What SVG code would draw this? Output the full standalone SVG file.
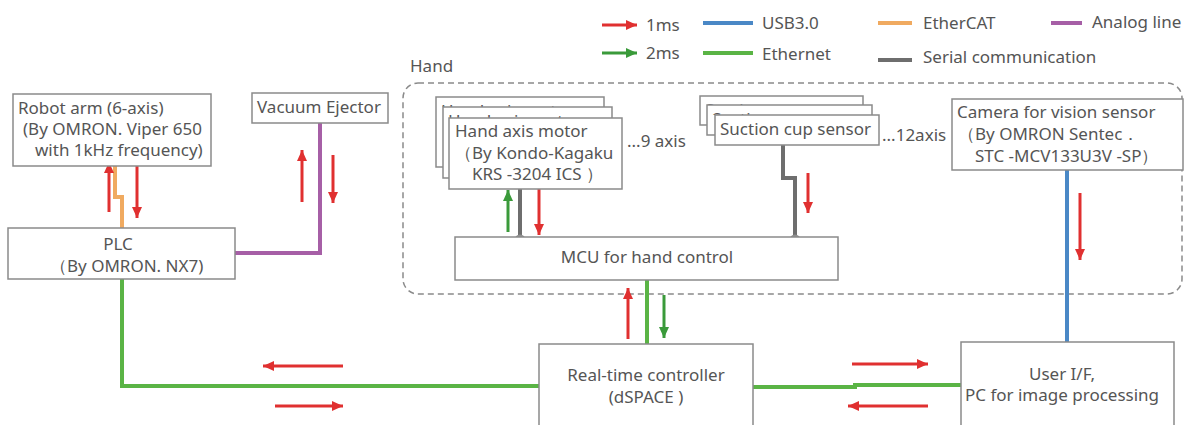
<svg xmlns="http://www.w3.org/2000/svg" width="1189" height="425" viewBox="0 0 1189 425">
  <style>
    .box { fill: #ffffff; stroke: #8a8a8a; stroke-width: 1.5; }
    .t { font-family: "Noto Sans", "Open Sans", sans-serif; font-size: 17px; fill: #555555; }
    .lg { font-family: "Noto Sans", "Open Sans", sans-serif; font-size: 17px; fill: #555555; }
    .c { fill: none; stroke-width: 4; stroke-linejoin: miter; }
    .eth { stroke: #5ab445; }
    .usb { stroke: #4a88c6; }
    .ecat { stroke: #f0aa60; }
    .ana { stroke: #a65fa6; }
    .ser { stroke: #6e6e6e; }
    .r { stroke: #e03030; stroke-width: 3; fill: none; marker-end: url(#ah-r); }
    .g { stroke: #3a9a3a; stroke-width: 3; fill: none; marker-end: url(#ah-g); }
  </style>
  <defs>
    <marker id="ah-r" markerUnits="userSpaceOnUse" markerWidth="12" markerHeight="10" refX="11" refY="5" orient="auto">
      <path d="M0,0 L11,5 L0,10 z" fill="#e03030"/>
    </marker>
    <marker id="ah-g" markerUnits="userSpaceOnUse" markerWidth="12" markerHeight="10" refX="11" refY="5" orient="auto">
      <path d="M0,0 L11,5 L0,10 z" fill="#3a9a3a"/>
    </marker>
    <!-- visible strips of the stacked back cards -->
    <clipPath id="clip-m1"><rect x="436" y="97" width="168" height="10"/></clipPath>
    <clipPath id="clip-m2"><rect x="443" y="107" width="169" height="11"/></clipPath>
    <clipPath id="clip-s1"><rect x="700" y="96" width="163" height="9"/></clipPath>
    <clipPath id="clip-s2"><rect x="707" y="105" width="165" height="10"/></clipPath>
  </defs>
  <rect width="1189" height="425" fill="#ffffff"/>

  <!-- legend -->
  <g id="legend">
    <line class="r" x1="602" y1="25" x2="637" y2="25"/>
    <text class="lg" x="646" y="31">1ms</text>
    <line class="g" x1="602" y1="53" x2="637" y2="53"/>
    <text class="lg" x="646" y="59">2ms</text>
    <line class="c usb" stroke-width="5" x1="703" y1="23" x2="753" y2="23"/>
    <text class="lg" x="762" y="29">USB3.0</text>
    <line class="c eth" stroke-width="5" x1="703" y1="53" x2="753" y2="53"/>
    <text class="lg" x="762" y="60">Ethernet</text>
    <line class="c ecat" x1="878" y1="23" x2="912" y2="23"/>
    <text class="lg" x="923" y="29">EtherCAT</text>
    <line class="c ser" x1="878" y1="60" x2="912" y2="60"/>
    <text class="lg" x="923" y="63">Serial communication</text>
    <line class="c ana" x1="1051" y1="23" x2="1082" y2="23"/>
    <text class="lg" x="1092" y="28">Analog line</text>
  </g>

  <!-- hand enclosure -->
  <g id="hand">
    <rect x="403" y="83" width="779" height="211" rx="15" ry="15" fill="none" stroke="#8a8a8a" stroke-width="1.5" stroke-dasharray="6,4"/>
    <text class="t" x="410" y="72">Hand</text>
  </g>

  <!-- connectors -->
  <g id="connectors">
    <path class="c ecat" d="M115,166 V197 H122 V228"/>
    <path class="c ana" d="M320,123 V253 H235"/>
    <path class="c ser" d="M520,189 V240"/>
    <path class="c ser" d="M783,145 V178 H795 V240"/>
    <circle cx="520" cy="240" r="5.5" fill="#8f8f8f"/>
    <circle cx="795" cy="240" r="5.5" fill="#8f8f8f"/>
    <path class="c eth" d="M122,279 V386 H539"/>
    <path class="c eth" d="M647,279 V344"/>
    <path class="c eth" d="M753,387 H855 V385 H961"/>
    <path class="c usb" d="M1067,170 V342"/>

    <line class="r" x1="109" y1="212" x2="109" y2="162"/>
    <line class="r" x1="137" y1="162" x2="137" y2="218"/>
    <line class="r" x1="302" y1="202" x2="302" y2="150"/>
    <line class="r" x1="333" y1="155" x2="333" y2="203"/>
    <line class="g" x1="508" y1="232" x2="508" y2="190"/>
    <line class="r" x1="539" y1="188" x2="539" y2="235"/>
    <line class="r" x1="808" y1="173" x2="808" y2="213"/>
    <line class="r" x1="1080" y1="193" x2="1080" y2="260"/>
    <line class="r" x1="628" y1="339" x2="628" y2="288"/>
    <line class="g" x1="664" y1="295" x2="664" y2="338"/>
    <line class="r" x1="343" y1="366" x2="263" y2="366"/>
    <line class="r" x1="275" y1="406" x2="343" y2="406"/>
    <line class="r" x1="852" y1="364" x2="928" y2="364"/>
    <line class="r" x1="928" y1="406" x2="848" y2="406"/>
  </g>

  <g id="robot-arm">
    <rect class="box" x="13" y="94" width="198" height="72"/>
    <text class="t" x="18" y="114">Robot arm (6-axis)</text>
    <text class="t" x="23" y="135">(By OMRON. Viper 650</text>
    <text class="t" x="35" y="156">with 1kHz frequency)</text>
  </g>

  <g id="vacuum-ejector">
    <rect class="box" x="252" y="93" width="136" height="30"/>
    <text class="t" x="257" y="113">Vacuum Ejector</text>
  </g>

  <g id="plc">
    <rect class="box" x="8" y="228" width="227" height="51"/>
    <text class="t" x="118" y="250" text-anchor="middle">PLC</text>
    <text class="t" x="50" y="272">（By OMRON. NX7)</text>
  </g>

  <g id="hand-axis-motor">
    <rect class="box" x="436" y="97" width="168" height="70"/>
    <text class="t" x="441" y="117" clip-path="url(#clip-m1)">Hand axis motor</text>
    <rect class="box" x="443" y="107" width="169" height="71"/>
    <text class="t" x="448" y="127" clip-path="url(#clip-m2)">Hand axis motor</text>
    <rect class="box" x="449" y="118" width="173" height="71"/>
    <text class="t" x="455" y="137">Hand axis motor</text>
    <text class="t" x="455" y="159">（By Kondo-Kagaku</text>
    <text class="t" x="472" y="180">KRS -3204 ICS ）</text>
    <text class="t" x="627" y="147">...9 axis</text>
  </g>

  <g id="suction-cup-sensor">
    <rect class="box" x="700" y="96" width="163" height="29"/>
    <text class="t" x="705" y="116" clip-path="url(#clip-s1)">Suction cup sensor</text>
    <rect class="box" x="707" y="105" width="165" height="30"/>
    <text class="t" x="712" y="125" clip-path="url(#clip-s2)">Suction cup sensor</text>
    <rect class="box" x="715" y="115" width="164" height="30"/>
    <text class="t" x="720" y="135">Suction cup sensor</text>
    <text class="t" x="882" y="141">...12axis</text>
  </g>

  <g id="mcu">
    <rect class="box" x="455" y="237" width="383" height="43"/>
    <text class="t" x="647" y="263" text-anchor="middle">MCU for hand control</text>
  </g>

  <g id="camera">
    <rect class="box" x="952" y="99" width="231" height="71"/>
    <text class="t" x="957" y="118">Camera for vision sensor</text>
    <text class="t" x="958" y="140">（By OMRON Sentec．</text>
    <text class="t" x="975" y="162">STC -MCV133U3V -SP）</text>
  </g>

  <g id="real-time-controller">
    <rect class="box" x="539" y="344" width="214" height="90"/>
    <text class="t" x="646" y="381" text-anchor="middle">Real-time controller</text>
    <text class="t" x="646" y="403" text-anchor="middle">(dSPACE )</text>
  </g>

  <g id="user-if">
    <rect class="box" x="961" y="342" width="213" height="92"/>
    <text class="t" x="1062" y="380" text-anchor="middle">User I/F,</text>
    <text class="t" x="1062" y="401" text-anchor="middle">PC for image processing</text>
  </g>
</svg>
